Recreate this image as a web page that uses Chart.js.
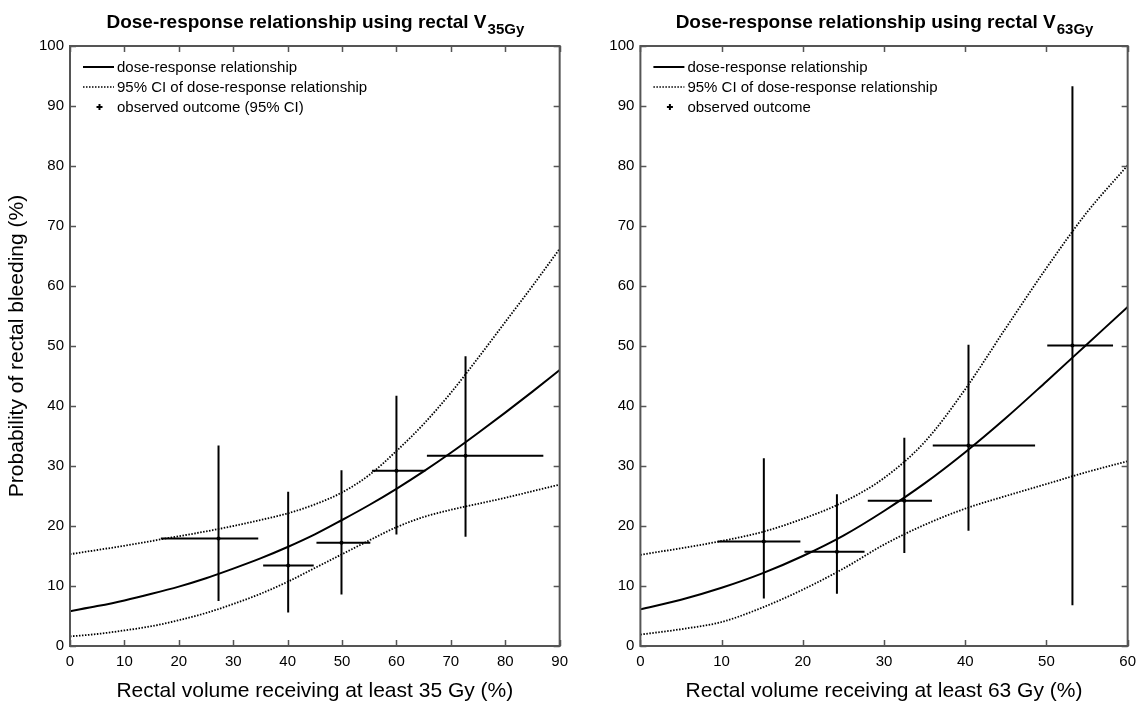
<!DOCTYPE html>
<html>
<head>
<meta charset="utf-8">
<script src="https://cdn.jsdelivr.net/npm/chart.js@4/dist/chart.umd.min.js"></script>
<style>
  html, body { margin: 0; padding: 0; background: #fff; }
  #wrap { position: relative; width: 1143px; height: 704px; overflow: hidden; }
  canvas { position: absolute; top: 0; }
</style>
</head>
<body>
<div id="wrap">
  <canvas id="c1" width="575" height="704" style="left:0px"></canvas>
  <canvas id="c2" width="568" height="704" style="left:575px"></canvas>
</div>
<script>
// ---------- Data: left panel (V35Gy) ----------
const curveX1   = [0, 5, 10, 15, 20, 25, 30, 35, 40, 45, 50, 55, 60, 65, 70, 75, 80, 85, 90];
const fit1      = [5.8, 6.65, 7.6, 8.7, 9.9, 11.3, 12.9, 14.6, 16.5, 18.6, 21.0, 23.5, 26.2, 29.1, 32.2, 35.5, 38.9, 42.4, 46.0];
const ciUpper1  = [15.3, 16.0, 16.7, 17.5, 18.3, 19.1, 20.0, 21.0, 22.1, 23.6, 25.6, 28.5, 32.5, 37.0, 42.2, 48.0, 54.0, 60.0, 66.2];
const ciLower1  = [1.6, 2.0, 2.6, 3.3, 4.3, 5.5, 7.0, 8.7, 10.7, 13.0, 15.3, 17.6, 19.8, 21.5, 22.7, 23.7, 24.7, 25.8, 26.9];
const obsX1     = [27.3, 40.1, 49.9, 60.0, 72.7];
const obsY1     = [17.9, 13.4, 17.2, 29.2, 31.7];
const obsYlo1   = [7.5, 5.6, 8.6, 18.6, 18.2];
const obsYhi1   = [33.4, 25.7, 29.3, 41.7, 48.3];
const obsXlo1   = [16.7, 35.5, 45.3, 55.5, 65.6];
const obsXhi1   = [34.6, 44.8, 55.2, 65.3, 87.0];

// ---------- Data: right panel (V63Gy) ----------
const curveX2   = [0, 5, 10, 15, 20, 25, 30, 35, 40, 45, 50, 55, 60];
const fit2      = [6.1, 7.7, 9.7, 12.1, 15.0, 18.4, 22.5, 27.1, 32.3, 38.0, 44.1, 50.3, 56.5];
const ciUpper2  = [15.2, 16.3, 17.5, 19.0, 21.2, 24.0, 28.0, 34.0, 42.8, 53.0, 63.0, 72.3, 80.1];
const ciLower2  = [1.9, 2.8, 4.0, 6.4, 9.4, 12.9, 16.9, 20.2, 22.9, 25.0, 27.0, 29.0, 30.8];
const obsX2     = [15.2, 24.2, 32.5, 40.4, 53.2];
const obsY2     = [17.4, 15.7, 24.2, 33.4, 50.1];
const obsYlo2   = [7.9, 8.7, 15.5, 19.2, 6.8];
const obsYhi2   = [31.3, 25.3, 34.7, 50.2, 93.3];
const obsXlo2   = [9.5, 20.2, 28.0, 36.0, 50.1];
const obsXhi2   = [19.7, 27.6, 35.9, 48.6, 58.2];

// ---------- Text ----------
const yTitle = 'Probability of rectal bleeding (%)';
const xTitle1 = 'Rectal volume receiving at least 35 Gy (%)';
const xTitle2 = 'Rectal volume receiving at least 63 Gy (%)';
const titleMain = 'Dose-response relationship using rectal V';
const titleSub1 = '35Gy';
const titleSub2 = '63Gy';
const legend1 = ['dose-response relationship', '95% CI of dose-response relationship', 'observed outcome (95% CI)'];
const legend2 = ['dose-response relationship', '95% CI of dose-response relationship', 'observed outcome'];

const FONT = '"Liberation Sans", Arial, Helvetica, sans-serif';
const AXIS_COLOR = '#555555';

// ---------- Plugins ----------
const boxTicksPlugin = {
  id: 'boxTicks',
  afterDraw(chart) {
    const {ctx, chartArea: a, scales} = chart;
    const len = 6;
    ctx.save();
    ctx.strokeStyle = AXIS_COLOR;
    ctx.lineWidth = 1.5;
    ctx.beginPath();
    scales.x.ticks.forEach(t => {
      const px = Math.round(scales.x.getPixelForValue(t.value)) + 0.5;
      ctx.moveTo(px, a.bottom); ctx.lineTo(px, a.bottom - len);
      ctx.moveTo(px, a.top); ctx.lineTo(px, a.top + len);
    });
    scales.y.ticks.forEach(t => {
      const py = Math.round(scales.y.getPixelForValue(t.value)) + 0.5;
      ctx.moveTo(a.left, py); ctx.lineTo(a.left + len, py);
      ctx.moveTo(a.right, py); ctx.lineTo(a.right - len, py);
    });
    ctx.stroke();
    ctx.lineWidth = 2;
    ctx.strokeRect(a.left, a.top, a.right - a.left, a.bottom - a.top);
    ctx.restore();
  }
};

const subTitlePlugin = {
  id: 'subTitle',
  afterDraw(chart, args, opts) {
    const {ctx, chartArea: a} = chart;
    ctx.save();
    ctx.fillStyle = '#000';
    ctx.textBaseline = 'alphabetic';
    ctx.font = 'bold 19px ' + FONT;
    const w1 = ctx.measureText(opts.main).width;
    ctx.font = 'bold 15px ' + FONT;
    const w2 = ctx.measureText(opts.sub).width;
    const cx = (a.left + a.right) / 2;
    const x0 = cx - (w1 + w2) / 2;
    ctx.font = 'bold 19px ' + FONT;
    ctx.textAlign = 'left';
    ctx.fillText(opts.main, x0, 28);
    ctx.font = 'bold 15px ' + FONT;
    ctx.fillText(opts.sub, x0 + w1 + 1, 34);
    ctx.restore();
  }
};

const insideLegendPlugin = {
  id: 'insideLegend',
  afterDraw(chart, args, opts) {
    const {ctx, chartArea: a} = chart;
    const items = opts.items;
    ctx.save();
    ctx.font = '15px ' + FONT;
    ctx.fillStyle = '#000';
    ctx.textBaseline = 'middle';
    ctx.textAlign = 'left';
    const x1 = a.left + 13, x2 = a.left + 44, tx = a.left + 47;
    const rows = [a.top + 21, a.top + 41, a.top + 61];
    ctx.strokeStyle = '#000';
    ctx.lineWidth = 2;
    ctx.beginPath(); ctx.moveTo(x1, rows[0]); ctx.lineTo(x2, rows[0]); ctx.stroke();
    ctx.setLineDash([1.5, 1.5]);
    ctx.lineWidth = 1.6;
    ctx.beginPath(); ctx.moveTo(x1, rows[1]); ctx.lineTo(x2, rows[1]); ctx.stroke();
    ctx.setLineDash([]);
    const mx = a.left + 29.5, my = rows[2];
    ctx.lineWidth = 2;
    ctx.beginPath();
    ctx.moveTo(mx - 3, my); ctx.lineTo(mx + 3, my);
    ctx.moveTo(mx, my - 3); ctx.lineTo(mx, my + 3);
    ctx.stroke();
    items.forEach((t, i) => ctx.fillText(t, tx, rows[i] + 1));
    ctx.restore();
  }
};

// ---------- Builders ----------
function toPts(xs, ys) { return xs.map((x, i) => ({x: x, y: ys[i]})); }

function buildDatasets(cx, fit, up, lo, ox, oy, oylo, oyhi, oxlo, oxhi) {
  const ds = [];
  const smooth = { showLine: true, pointRadius: 0, cubicInterpolationMode: 'monotone', fill: false };
  ds.push(Object.assign({ data: toPts(cx, fit), borderColor: '#000', borderWidth: 2 }, smooth));
  ds.push(Object.assign({ data: toPts(cx, up), borderColor: '#000', borderWidth: 1.8, borderDash: [1.5, 1.5] }, smooth));
  ds.push(Object.assign({ data: toPts(cx, lo), borderColor: '#000', borderWidth: 1.8, borderDash: [1.5, 1.5] }, smooth));
  ox.forEach((x, i) => {
    ds.push({ data: [{x: x, y: oylo[i]}, {x: x, y: oyhi[i]}], borderColor: '#000', borderWidth: 2, showLine: true, pointRadius: 0 });
    ds.push({ data: [{x: oxlo[i], y: oy[i]}, {x: oxhi[i], y: oy[i]}], borderColor: '#000', borderWidth: 2, showLine: true, pointRadius: 0 });
  });
  ds.push({ data: toPts(ox, oy), showLine: false, pointRadius: 2, pointStyle: 'circle', backgroundColor: '#000', borderColor: '#000', borderWidth: 0 });
  return ds;
}

function makeChart(id, cfg) {
  return new Chart(document.getElementById(id), {
    type: 'scatter',
    data: { datasets: cfg.datasets },
    options: {
      responsive: false,
      animation: false,
      devicePixelRatio: 1,
      layout: { padding: { top: 46, right: cfg.padRight, bottom: 0, left: 0 } },
      plugins: {
        legend: { display: false },
        tooltip: { enabled: false },
        subTitle: { main: titleMain, sub: cfg.sub },
        insideLegend: { items: cfg.legend }
      },
      scales: {
        x: {
          type: 'linear', min: 0, max: cfg.xmax,
          grid: { display: false, drawTicks: false },
          border: { display: false },
          ticks: { stepSize: 10, padding: 7, color: '#000', font: { family: FONT, size: 15 }, maxRotation: 0 },
          title: { display: true, text: cfg.xTitle, color: '#000', font: { family: FONT, size: 21 }, padding: { top: 0, bottom: 0 } },
          afterFit: s => { s.height = 58; }
        },
        y: {
          type: 'linear', min: 0, max: 100,
          grid: { display: false, drawTicks: false },
          border: { display: false },
          ticks: { stepSize: 10, padding: 6, color: '#000', font: { family: FONT, size: 15 } },
          title: { display: cfg.showY, text: yTitle, color: '#000', font: { family: FONT, size: 21 }, padding: { top: 5, bottom: 0 } },
          afterFit: s => { s.width = cfg.yWidth; }
        }
      }
    },
    plugins: [boxTicksPlugin, subTitlePlugin, insideLegendPlugin]
  });
}

makeChart('c1', {
  datasets: buildDatasets(curveX1, fit1, ciUpper1, ciLower1, obsX1, obsY1, obsYlo1, obsYhi1, obsXlo1, obsXhi1),
  xmax: 90, xTitle: xTitle1, sub: titleSub1, legend: legend1, showY: true, yWidth: 70, padRight: 15
});
makeChart('c2', {
  datasets: buildDatasets(curveX2, fit2, ciUpper2, ciLower2, obsX2, obsY2, obsYlo2, obsYhi2, obsXlo2, obsXhi2),
  xmax: 60, xTitle: xTitle2, sub: titleSub2, legend: legend2, showY: false, yWidth: 65.4, padRight: 9
});
</script>
</body>
</html>
